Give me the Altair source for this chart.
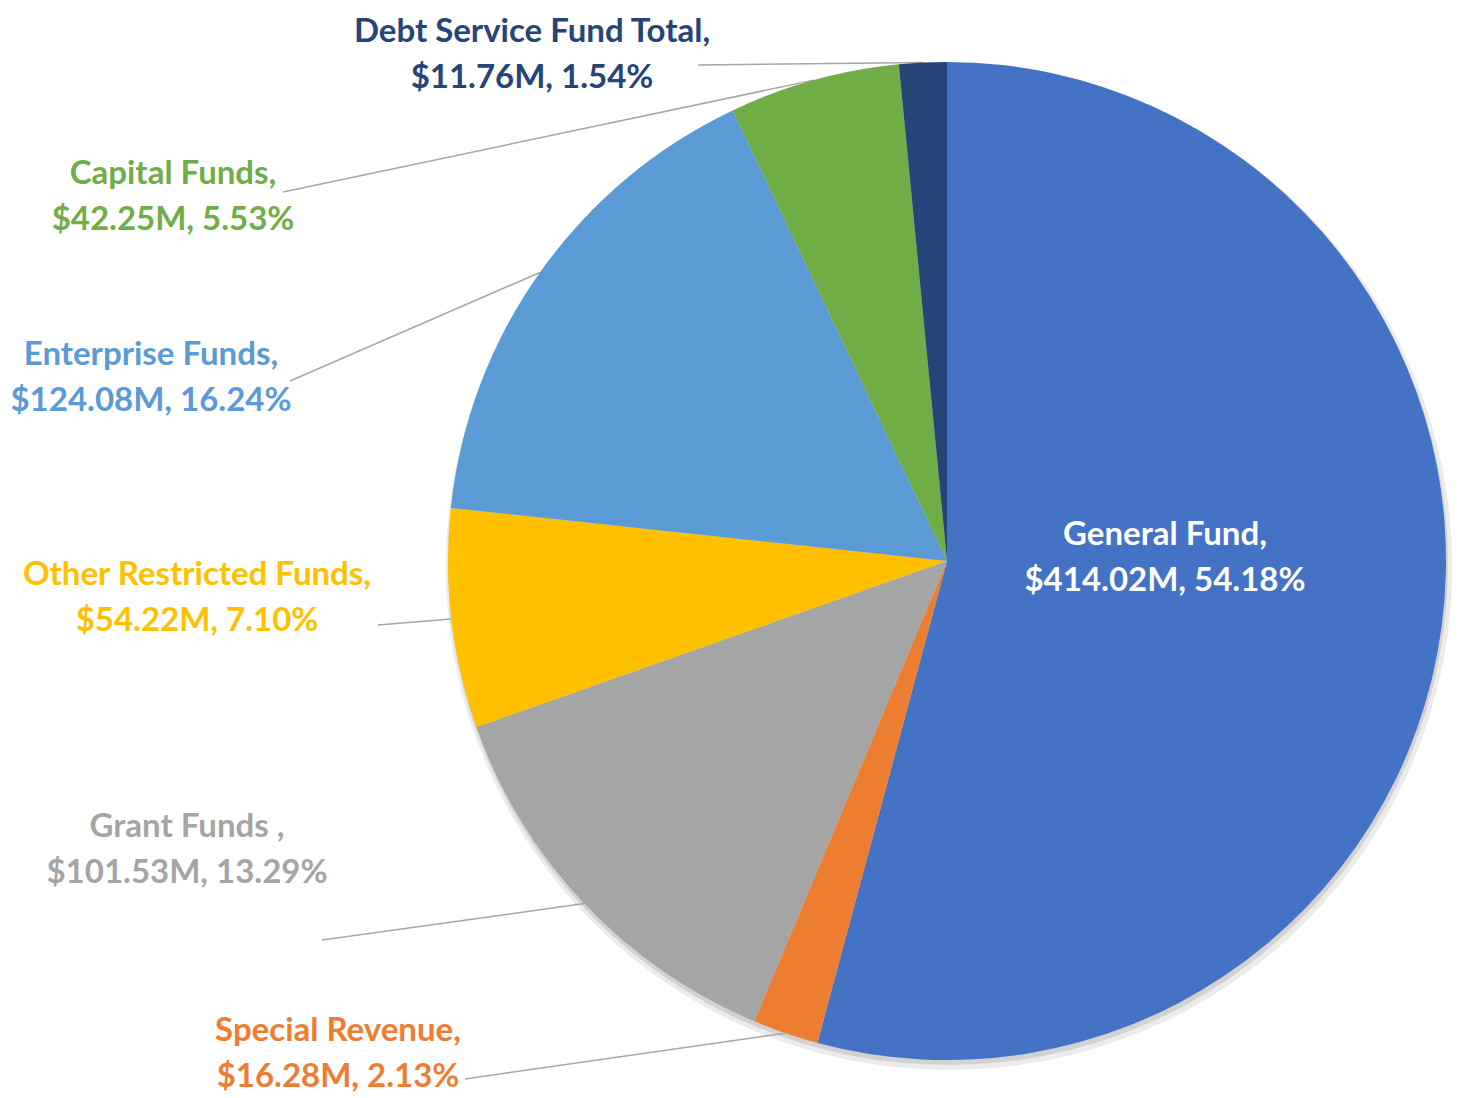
import altair as alt
import pandas as pd

# ---- data ----
names = ["General Fund", "Special Revenue", "Grant Funds ", "Other Restricted Funds",
         "Enterprise Funds", "Capital Funds", "Debt Service Fund Total"]
values = [414.02, 16.28, 101.53, 54.22, 124.08, 42.25, 11.76]
pct_labels = ["54.18%", "2.13%", "13.29%", "7.10%", "16.24%", "5.53%", "1.54%"]

# ---- styles ----
slice_colors = ["#4472C4", "#ED7D31", "#A5A5A5", "#FFC000", "#5B9BD5", "#70AD47", "#264478"]
text_colors = ["#FFFFFF", "#ED7D31", "#A5A5A5", "#FFC000", "#5B9BD5", "#70AD47", "#264478"]

# ---- layout (page pixel coordinates) ----
CX, CY, R = 947, 561, 499
label_x = [1165, 338, 187, 197, 151, 173, 532]
label_y = [535, 1031, 827, 575, 355, 174, 32]   # first-line centres
leader_x = [None, 465, 322, 378, 290, 283, 698]
leader_y = [None, 1079, 940, 625, 381, 192, 65]

W, H = 1446, 1086
xs = alt.Scale(domain=[8, 8 + W])
ys = alt.Scale(domain=[8, 8 + H], reverse=True)

df = pd.DataFrame({
    "idx": list(range(len(names))),
    "name": names,
    "value": values,
    "label": [f"{n},\n${v:.2f}M, {p}" for n, v, p in zip(names, values, pct_labels)],
    "slice_color": slice_colors,
    "text_color": text_colors,
    "tx": label_x,
    "ty": label_y,
    "lx": leader_x,
    "ly": leader_y,
})

base = alt.Chart(df)

shadow_outer = base.transform_filter("datum.idx == 0").mark_arc(
    theta=0, theta2=6.2832, outerRadius=R + 4, color="#ebebeb"
).encode(
    x=alt.XDatum(CX + 2, type="quantitative", scale=xs, axis=None),
    y=alt.YDatum(CY + 6, type="quantitative", scale=ys, axis=None),
)
shadow_inner = base.transform_filter("datum.idx == 0").mark_arc(
    theta=0, theta2=6.2832, outerRadius=R + 1, color="#d2d2d2"
).encode(
    x=alt.XDatum(CX + 1, type="quantitative", scale=xs, axis=None),
    y=alt.YDatum(CY + 4, type="quantitative", scale=ys, axis=None),
)

leaders = base.transform_joinaggregate(
    total="sum(value)"
).transform_window(
    cum="sum(value)", sort=[alt.SortField("idx")], frame=[None, 0]
).transform_calculate(
    mid="(datum.cum - datum.value/2) / datum.total * 2 * PI",
    px=f"{CX} + {R} * sin(datum.mid)",
    py=f"{CY} - {R} * cos(datum.mid)",
).transform_filter("isValid(datum.lx)").mark_rule(
    color="#a6a6a6", strokeWidth=1.5
).encode(
    x=alt.X("lx:Q", scale=xs, axis=None),
    y=alt.Y("ly:Q", scale=ys, axis=None),
    x2="px:Q",
    y2="py:Q",
)

pie = base.mark_arc(outerRadius=R).encode(
    x=alt.XDatum(CX, type="quantitative", scale=xs, axis=None),
    y=alt.YDatum(CY, type="quantitative", scale=ys, axis=None),
    theta=alt.Theta("value:Q", stack=True),
    order=alt.Order("idx:Q", sort="ascending"),
    color=alt.Color("slice_color:N", scale=None, legend=None),
)

labels = base.mark_text(
    font="Lato", fontWeight="bold", fontSize=33, lineBreak="\n", lineHeight=46,
    align="center", baseline="middle"
).encode(
    x=alt.X("tx:Q", scale=xs, axis=None),
    y=alt.Y("ty:Q", scale=ys, axis=None),
    text="label:N",
    color=alt.Color("text_color:N", scale=None, legend=None),
)

chart = alt.layer(shadow_outer, shadow_inner, leaders, pie, labels).properties(
    width=W, height=H, padding=0, autosize=alt.AutoSizeParams(type="none")
).configure_view(stroke=None, strokeWidth=0)

chart.save("out.html", embed_options={"renderer": "svg", "actions": False})
